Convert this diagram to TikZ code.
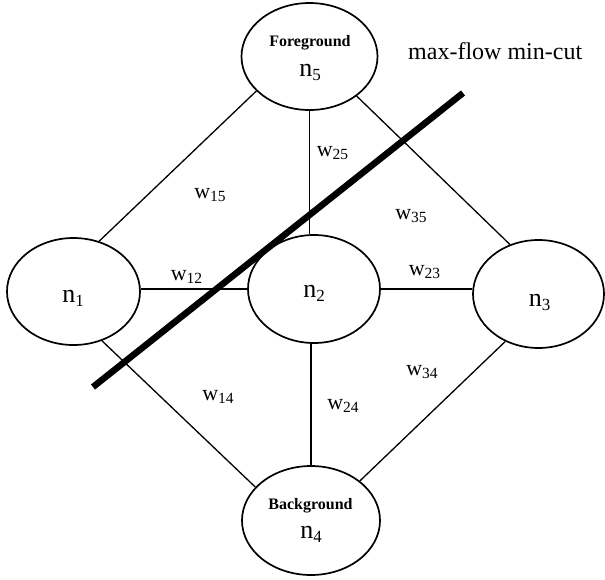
\documentclass[tikz,border=0pt]{standalone}
\usepackage{fontspec}
\setmainfont{Liberation Serif}
\usetikzlibrary{shapes.geometric}
\newcommand\wsub[1]{\raisebox{-3.6pt}{\fontsize{15.5}{15.5}\selectfont #1}}
\newcommand\nsub[1]{\raisebox{-4.6pt}{\fontsize{17}{17}\selectfont #1}}
\tikzset{
  vert/.style={ellipse, draw, line width=1.7pt, inner sep=0pt},
  conn/.style={line width=1.3pt},
  wlab/.style={anchor=base, inner sep=0pt, font=\fontsize{22}{22}\selectfont},
  nlab/.style={anchor=base, inner sep=0pt, font=\fontsize{26}{26}\selectfont},
  tlab/.style={anchor=base, inner sep=0pt, font=\fontsize{16}{16}\selectfont\bfseries},
  cut/.style={line width=6.5pt}
}
\begin{document}
\begin{tikzpicture}[x=1pt, y=-1pt]
\useasboundingbox (0,0) rectangle (605,579);
% vertices
\node[vert, minimum width=133pt, minimum height=107pt] (n1) at (73.5,291.5) {};
\node[vert, minimum width=132pt, minimum height=108pt] (n2) at (314,289) {};
\node[vert, minimum width=131pt, minimum height=108pt] (n3) at (538.5,294) {};
\node[vert, minimum width=136pt, minimum height=107pt] (n5) at (309.5,56.5) {};
\node[vert, minimum width=138pt, minimum height=109pt] (n4) at (311,520.5) {};
% vertex labels
\node[nlab] (l1) at (73,302) {n\nsub{1}};
\node[nlab] (l2) at (314,297) {n\nsub{2}};
\node[nlab] (l3) at (539.5,306) {n\nsub{3}};
\node[tlab] (fg) at (310,46) {Foreground};
\node[nlab] (l5) at (310,76) {n\nsub{5}};
\node[tlab] (bg) at (310.5,509) {Background};
\node[nlab] (l4) at (311,538) {n\nsub{4}};
% connectors
\draw[conn] (n1.63.7) -- (n5.-147);
\draw[conn] (n5.-40.6) -- (n3.120.2);
\draw[conn] (n1.-60.2) -- (n4.149.1);
\draw[conn] (n3.235.1) -- (n4.39.6);
\draw[conn] (n5.south) -- (n5.south |- n2.north);
\draw[conn] (n4.north) -- (n4.north |- n2.south);
\draw[conn] (n2.west) -- (n2.west -| n1.east);
\draw[conn] (n2.east) -- (n2.east -| n3.west);
% weights
\node[wlab] (w15) at (210,198) {w\wsub{15}};
\node[wlab] (w25) at (332.5,156) {w\wsub{25}};
\node[wlab] (w35) at (411,219) {w\wsub{35}};
\node[wlab] (w12) at (186.5,280) {w\wsub{12}};
\node[wlab] (w23) at (424.5,275) {w\wsub{23}};
\node[wlab] (w34) at (422,375) {w\wsub{34}};
\node[wlab] (w14) at (218,400) {w\wsub{14}};
\node[wlab] (w24) at (343,409) {w\wsub{24}};
% cut
\coordinate (c1) at (93,387);
\coordinate (c2) at (463,93);
\draw[cut] (c1) -- (c2);
\node[anchor=base west, inner sep=0pt, font=\fontsize{24}{24}\selectfont] (mf) at (408,59) {max-flow min-cut};
\end{tikzpicture}
\end{document}
